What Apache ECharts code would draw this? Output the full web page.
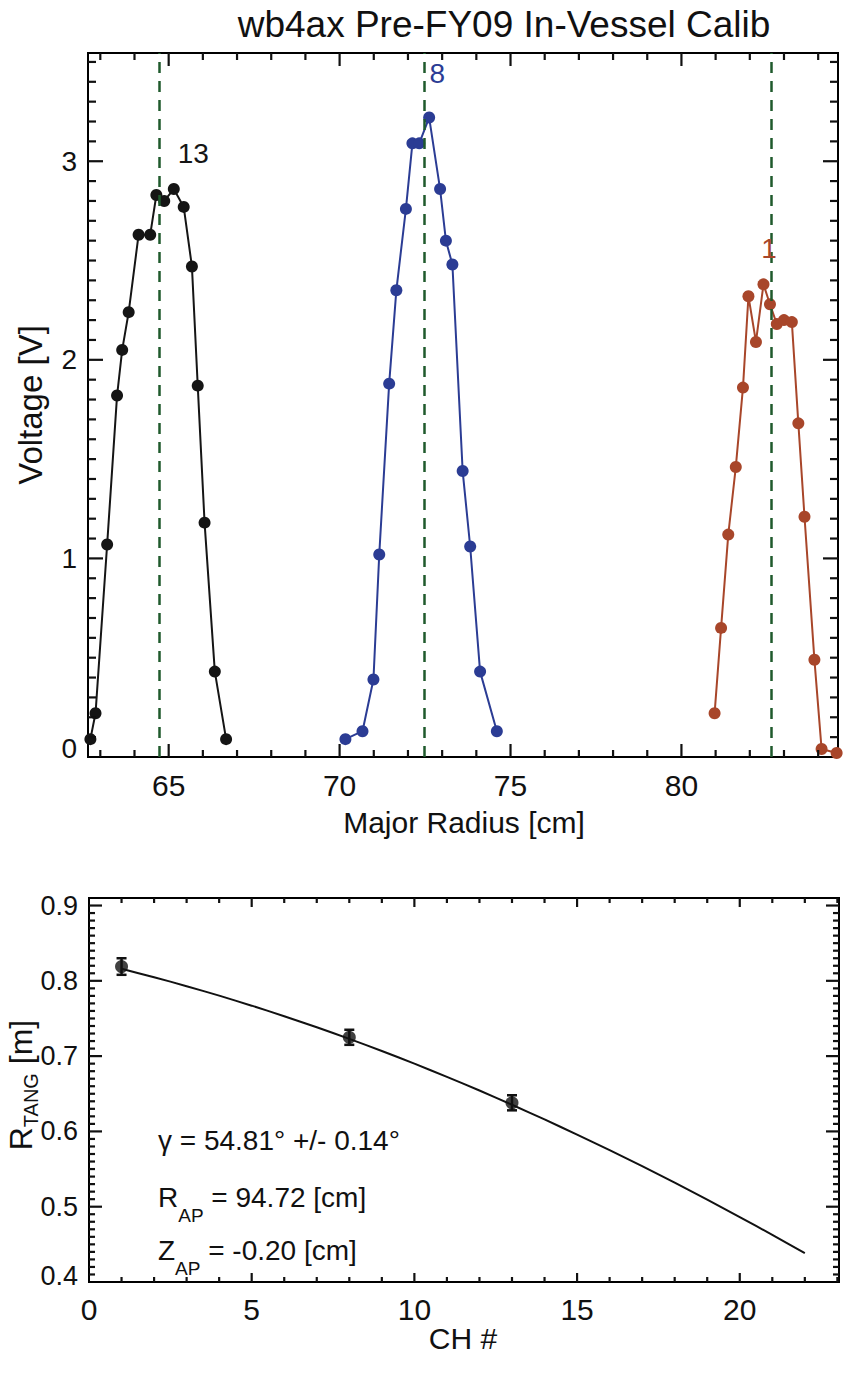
<!DOCTYPE html>
<html><head><meta charset="utf-8">
<script src="https://cdn.jsdelivr.net/npm/echarts@6/dist/echarts.min.js"></script>
<style>html,body{margin:0;padding:0;background:#fff}#c{width:845px;height:1374px}</style>
</head><body><div id="c"></div>
<script>
// ---- top panel: voltage scans vs major radius ----
const ch13R = [62.71, 62.86, 63.20, 63.49, 63.64, 63.83, 64.12, 64.46, 64.64, 64.87, 65.15, 65.44, 65.68, 65.85, 66.05, 66.35, 66.68];
const ch13V = [0.09, 0.22, 1.07, 1.82, 2.05, 2.24, 2.63, 2.63, 2.83, 2.80, 2.86, 2.77, 2.47, 1.87, 1.18, 0.43, 0.09];
const ch8R = [70.17, 70.67, 70.99, 71.16, 71.45, 71.66, 71.94, 72.13, 72.33, 72.62, 72.94, 73.11, 73.30, 73.60, 73.82, 74.11, 74.60];
const ch8V = [0.09, 0.13, 0.39, 1.02, 1.88, 2.35, 2.76, 3.09, 3.09, 3.22, 2.86, 2.60, 2.48, 1.44, 1.06, 0.43, 0.13];
const ch1R = [80.97, 81.16, 81.37, 81.59, 81.80, 81.96, 82.18, 82.40, 82.59, 82.79, 83.00, 83.23, 83.42, 83.60, 83.89, 84.10, 84.54];
const ch1V = [0.22, 0.65, 1.12, 1.46, 1.86, 2.32, 2.09, 2.38, 2.28, 2.18, 2.20, 2.19, 1.68, 1.21, 0.49, 0.04, 0.02];
const centerR = [64.71, 72.48, 82.62];
const peakText = ['13', '8', '1'];
const peakR = [65.72, 72.86, 82.56];
const peakV = [3.04, 3.44, 2.56];
const topXRange = [62.64, 84.58];
const topYRange = [0, 3.545];

// ---- bottom panel: tangency radius vs channel ----
const chNum = [1, 8, 13];
const rTang = [0.819, 0.725, 0.638];
const rTangErr = [0.011, 0.010, 0.010];
const fitCh = [1,2,3,4,5,6,7,8,9,10,11,12,13,14,15,16,17,18,19,20,21,22];
const fitR = [0.8160, 0.8048, 0.7929, 0.7803, 0.7670, 0.7530, 0.7383, 0.7229, 0.7068, 0.6900, 0.6725, 0.6543, 0.6354, 0.6159, 0.5958, 0.5751, 0.5538, 0.5319, 0.5094, 0.4863, 0.4626, 0.4383];
const botXRange = [0, 23.05];
const botYRange = [0.4, 0.91];

// ---- axis tick steps: [major, minor] ----
const topXSteps = [5, 1], topYSteps = [1, 0.1];
const botXSteps = [5, 1], botYSteps = [0.1, 0.01];

const FONT = 'Liberation Sans, Arial, sans-serif';
const C_BLACK = '#151515', C_BLUE = '#2b3c94', C_RED = '#a8462a', C_GREEN = '#1f5a2c';
const GRIDS = [
  { left: 88, top: 53, right: 7, height: 704 },
  { left: 89, top: 898, right: 6, height: 384 }
];

function near(v, step) { const q = v / step; return Math.abs(q - Math.round(q)) < 1e-6; }
function stepsIn(range, step) {
  const out = [];
  for (let k = Math.ceil(range[0] / step - 1e-9); k * step <= range[1] + 1e-9; k++) out.push(+(k * step).toFixed(6));
  return out.filter(v => v > range[0] && v < range[1]);
}
// Tick items anchored at a point strictly inside the plot: [x, y, kind(0 = x tick, 1 = y tick), length px].
// The tick strokes themselves are drawn from the plot edges, located through api.coord.
function tickSeries(axisIdx, xr, yr, xs, ys, lx, ly) {
  const xMid = (xr[0] + xr[1]) / 2, yMid = (yr[0] + yr[1]) / 2;
  const data = [];
  stepsIn(xr, xs[1]).forEach(v => data.push([v, yMid, 0, near(v, xs[0]) ? lx[0] : lx[1]]));
  stepsIn(yr, ys[1]).forEach(v => data.push([xMid, v, 1, near(v, ys[0]) ? ly[0] : ly[1]]));
  return {
    type: 'custom', xAxisIndex: axisIdx, yAxisIndex: axisIdx, silent: true, clip: false, z: 4,
    data: data,
    renderItem: function (params, api) {
      const kind = api.value(2), len = api.value(3);
      const st = { stroke: '#111', lineWidth: 2.2 };
      if (kind === 0) {
        const v = api.value(0);
        const b = api.coord([v, yr[0]]), t = api.coord([v, yr[1]]);
        return { type: 'group', children: [
          { type: 'line', shape: { x1: b[0], y1: b[1], x2: b[0], y2: b[1] - len }, style: st },
          { type: 'line', shape: { x1: t[0], y1: t[1], x2: t[0], y2: t[1] + len }, style: st }
        ] };
      }
      const v = api.value(1);
      const l = api.coord([xr[0], v]), r = api.coord([xr[1], v]);
      return { type: 'group', children: [
        { type: 'line', shape: { x1: l[0], y1: l[1], x2: l[0] + len, y2: l[1] }, style: st },
        { type: 'line', shape: { x1: r[0], y1: r[1], x2: r[0] - len, y2: r[1] }, style: st }
      ] };
    }
  };
}

function labelAxis(grid, pos, range, split, fmt, fs, margin, loPad) {
  return {
    type: 'value', gridIndex: grid, position: pos, min: range[0], max: range[1], splitNumber: split,
    axisLine: { show: true, onZero: false, lineStyle: { color: '#000', width: 2 } },
    axisTick: { show: false }, minorTick: { show: false },
    splitLine: { show: false }, minorSplitLine: { show: false },
    axisLabel: { show: true, fontSize: fs, fontFamily: FONT, color: '#111', margin: margin, formatter: fmt,
      rich: { lo: { fontSize: fs, fontFamily: FONT, color: '#111', padding: [0, 0, loPad, 0] } } }
  };
}
const fmtTopX = v => near(v, 5) ? String(Math.round(v)) : '';
const fmtTopY = v => !near(v, 1) ? '' : (Math.round(v) === 0 ? '{lo|0}' : String(Math.round(v)));
const fmtBotX = v => near(v, 5) ? String(Math.round(v)) : '';
const fmtBotY = v => !near(v, 0.1) ? '' : (Math.abs(v - 0.4) < 1e-6 ? '{lo|0.4}' : v.toFixed(1));

function zip(a, b) { return a.map((x, i) => [x, b[i]]); }

function scanSeries(R, V, color, idx) {
  return {
    type: 'line', xAxisIndex: 0, yAxisIndex: 0, data: zip(R, V),
    symbol: 'circle', symbolSize: 12, color: color,
    itemStyle: { color: color }, lineStyle: { color: color, width: 2 },
    clip: true, silent: true, z: 3,
    markPoint: {
      silent: true, animation: false, symbol: 'circle', symbolSize: 1,
      itemStyle: { color: 'rgba(255,255,255,0)' },
      label: { show: true, position: 'inside', color: color, fontSize: 28, fontFamily: FONT,
               textBorderWidth: 0, opacity: 1, formatter: '{b}' },
      data: [{ name: peakText[idx], coord: [peakR[idx], peakV[idx]] }]
    }
  };
}

const chart = echarts.init(document.getElementById('c'), null, { renderer: 'svg' });
const option = {
  animation: false,
  backgroundColor: '#fff',
  grid: GRIDS.map(g => ({ left: g.left, top: g.top, right: g.right, height: g.height, show: true, borderColor: '#000', borderWidth: 2, backgroundColor: 'transparent' })),
  xAxis: [
    labelAxis(0, 'bottom', topXRange, 4, fmtTopX, 30, 13, 0),
    labelAxis(1, 'bottom', botXRange, 5, fmtBotX, 30, 12, 0)
  ],
  yAxis: [
    labelAxis(0, 'left', topYRange, 4, fmtTopY, 28, 11, 18),
    labelAxis(1, 'left', botYRange, 5, fmtBotY, 27, 11, 12)
  ],
  series: [
    Object.assign(scanSeries(ch13R, ch13V, C_BLACK, 0), {
      markLine: {
        silent: true, symbol: ['none', 'none'], animation: false,
        label: { show: false },
        lineStyle: { type: [11, 8], color: C_GREEN, width: 2.5 },
        emphasis: { disabled: true },
        data: centerR.map(r => ({ xAxis: r }))
      }
    }),
    scanSeries(ch8R, ch8V, C_BLUE, 1),
    scanSeries(ch1R, ch1V, C_RED, 2),
    tickSeries(0, topXRange, topYRange, topXSteps, topYSteps, [13, 7], [15, 8]),
    tickSeries(1, botXRange, botYRange, botXSteps, botYSteps, [9, 5], [13, 6]),
    {
      type: 'line', xAxisIndex: 1, yAxisIndex: 1, data: zip(fitCh, fitR),
      symbol: 'none', smooth: 0.2, lineStyle: { color: '#111', width: 2 }, silent: true
    },
    {
      type: 'custom', xAxisIndex: 1, yAxisIndex: 1, silent: true,
      data: chNum.map((c, i) => [c, rTang[i], rTangErr[i]]),
      renderItem: function (params, api) {
        const x = api.value(0), y = api.value(1), e = api.value(2);
        const top = api.coord([x, y + e]);
        const bot = api.coord([x, y - e]);
        const hw = 5;
        const st = { stroke: '#111', lineWidth: 2.5 };
        return {
          type: 'group', children: [
            { type: 'line', shape: { x1: top[0], y1: top[1], x2: bot[0], y2: bot[1] }, style: st },
            { type: 'line', shape: { x1: top[0] - hw, y1: top[1], x2: top[0] + hw, y2: top[1] }, style: st },
            { type: 'line', shape: { x1: bot[0] - hw, y1: bot[1], x2: bot[0] + hw, y2: bot[1] }, style: st }
          ]
        };
      },
      z: 4
    },
    {
      type: 'scatter', xAxisIndex: 1, yAxisIndex: 1, silent: true,
      data: zip(chNum, rTang), symbol: 'circle', symbolSize: 13,
      itemStyle: { color: '#111' }, z: 5
    }
  ],
  graphic: [
    { type: 'text', x: 504, y: 24, style: { text: 'wb4ax Pre-FY09 In-Vessel Calib', fontSize: 37, fontFamily: FONT, fill: '#111', align: 'center', verticalAlign: 'middle' } },
    { type: 'text', x: 464, y: 822, style: { text: 'Major Radius [cm]', fontSize: 30, fontFamily: FONT, fill: '#111', align: 'center', verticalAlign: 'middle' } },
    { type: 'text', x: 30, y: 405, rotation: Math.PI / 2, style: { text: 'Voltage [V]', fontSize: 33, fontFamily: FONT, fill: '#111', align: 'center', verticalAlign: 'middle' } },
    { type: 'text', x: 463, y: 1338, style: { text: 'CH #', fontSize: 30, fontFamily: FONT, fill: '#111', align: 'center', verticalAlign: 'middle' } },
    { type: 'text', x: 21, y: 1085, rotation: Math.PI / 2, style: {
        text: '{m|R}{s|TANG}{m| [m]}', fontFamily: FONT, fill: '#111', align: 'center', verticalAlign: 'middle',
        rich: { m: { fontSize: 32, lineHeight: 40, verticalAlign: 'middle', fontFamily: FONT, fill: '#111' },
                s: { fontSize: 20, lineHeight: 16, verticalAlign: 'bottom', fontFamily: FONT, fill: '#111' } } } },
    { type: 'text', x: 158, y: 1140, style: { text: 'γ = 54.81° +/- 0.14°', fontSize: 28, fontFamily: FONT, fill: '#111', align: 'left', verticalAlign: 'middle' } },
    { type: 'text', x: 158, y: 1197, style: {
        text: '{m|R}{s|AP}{m| = 94.72 [cm]}', fontFamily: FONT, fill: '#111', align: 'left', verticalAlign: 'middle',
        rich: { m: { fontSize: 28, lineHeight: 56, verticalAlign: 'middle', fontFamily: FONT, fill: '#111' },
                s: { fontSize: 19, lineHeight: 20, verticalAlign: 'bottom', fontFamily: FONT, fill: '#111' } } } },
    { type: 'text', x: 158, y: 1250, style: {
        text: '{m|Z}{s|AP}{m| = -0.20 [cm]}', fontFamily: FONT, fill: '#111', align: 'left', verticalAlign: 'middle',
        rich: { m: { fontSize: 28, lineHeight: 56, verticalAlign: 'middle', fontFamily: FONT, fill: '#111' },
                s: { fontSize: 19, lineHeight: 20, verticalAlign: 'bottom', fontFamily: FONT, fill: '#111' } } } }
  ]
};
chart.setOption(option);
</script>
</body></html>
